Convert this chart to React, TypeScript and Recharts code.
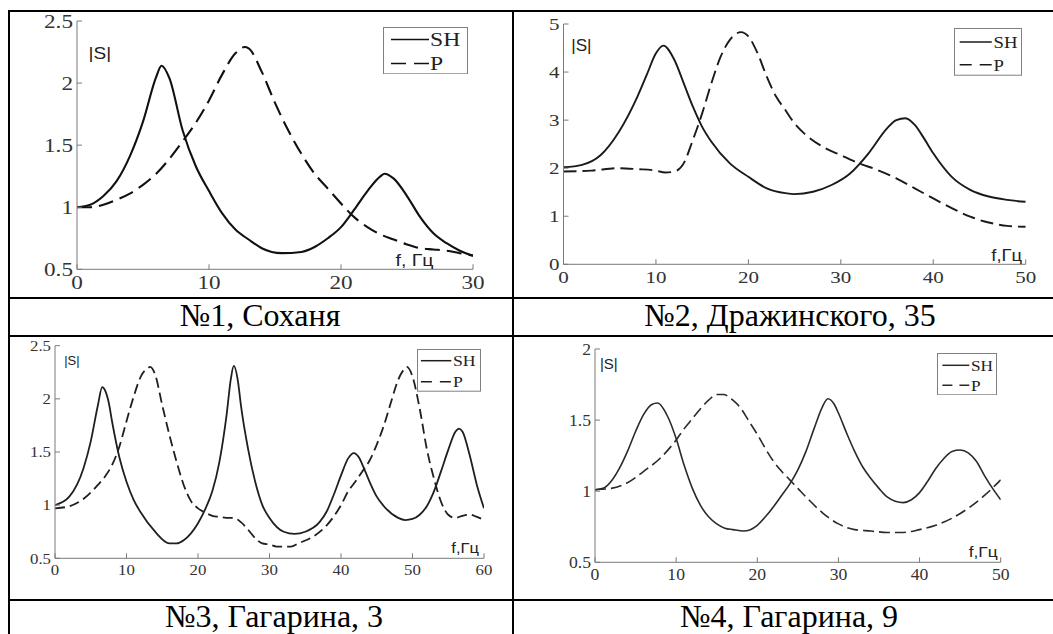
import { LineChart, Line, XAxis, YAxis, Legend } from "recharts";

// №1, Соханя
const f1Sh = [0, 1, 2, 3, 4, 5, 6, 6.4, 7, 8, 9, 10, 11, 12, 13, 14, 15.5, 17, 18, 19, 20, 21, 22, 23, 23.3, 24, 25, 26, 27, 28, 29, 30];
const s1Sh = [1.0, 1.02, 1.09, 1.21, 1.41, 1.69, 2.05, 2.14, 2.04, 1.62, 1.33, 1.13, 0.95, 0.82, 0.74, 0.67, 0.63, 0.64, 0.68, 0.75, 0.84, 0.98, 1.13, 1.25, 1.27, 1.23, 1.09, 0.92, 0.79, 0.71, 0.65, 0.61];
const f1P = [0, 1, 2, 3, 4, 5, 6, 7, 8, 9, 10, 11, 12, 12.7, 13, 14, 15, 16, 17, 18, 19, 20, 21, 22, 23, 24, 25, 26, 27, 28, 29, 30];
const s1P = [1.0, 1.0, 1.02, 1.06, 1.11, 1.18, 1.27, 1.39, 1.53, 1.68, 1.86, 2.07, 2.24, 2.29, 2.28, 2.09, 1.84, 1.62, 1.43, 1.27, 1.15, 1.03, 0.92, 0.84, 0.78, 0.74, 0.7, 0.67, 0.66, 0.65, 0.63, 0.61];
const x1Ticks = [0, 10, 20, 30];
const y1Ticks = [0.5, 1, 1.5, 2, 2.5];

// №2, Дражинского, 35
const f2Sh = [0, 2, 4, 6, 8, 9, 10, 10.8, 12, 13, 14, 15, 16, 18, 20, 22, 24, 25, 27, 29, 31, 33, 35, 36, 37, 38, 39, 40, 42, 44, 46, 48, 50];
const s2Sh = [2.02, 2.07, 2.27, 2.76, 3.49, 3.94, 4.39, 4.55, 4.25, 3.77, 3.28, 2.86, 2.55, 2.1, 1.82, 1.58, 1.48, 1.46, 1.51, 1.65, 1.89, 2.31, 2.83, 3.0, 3.04, 2.9, 2.62, 2.31, 1.82, 1.55, 1.41, 1.34, 1.3];
const f2P = [0, 3, 6, 8, 10, 11, 12, 13, 14, 15, 16, 17, 18, 19.2, 20, 21, 22, 23, 24, 25, 26, 28, 30, 32, 34, 36, 38, 40, 42, 44, 46, 48, 50];
const s2P = [1.93, 1.95, 2.0, 1.98, 1.95, 1.91, 1.93, 2.1, 2.59, 3.14, 3.77, 4.32, 4.67, 4.83, 4.74, 4.39, 3.9, 3.49, 3.21, 2.93, 2.73, 2.45, 2.27, 2.1, 1.96, 1.79, 1.58, 1.37, 1.17, 0.99, 0.87, 0.8, 0.78];
const x2Ticks = [0, 10, 20, 30, 40, 50];
const y2Ticks = [0, 1, 2, 3, 4, 5];

// №3, Гагарина, 3
const f3Sh = [0, 2, 4, 5, 6, 6.6, 7, 7.5, 8, 9, 10, 11, 12, 14, 16, 17, 18, 20, 21, 22, 23, 24, 24.6, 25, 25.6, 26, 27, 28, 29, 30, 32, 33.5, 35, 37, 38, 39, 40, 41, 41.8, 42.5, 43, 44, 45, 46, 48, 49, 50, 51, 52, 53, 54, 55, 56, 56.5, 57, 58, 59, 60];
const s3Sh = [1.0, 1.08, 1.35, 1.6, 1.94, 2.11, 2.08, 1.97, 1.78, 1.45, 1.22, 1.05, 0.93, 0.75, 0.64, 0.64, 0.67, 0.83, 0.96, 1.13, 1.41, 1.85, 2.19, 2.31, 2.16, 1.94, 1.53, 1.22, 1.0, 0.88, 0.75, 0.73, 0.75, 0.84, 0.94, 1.1, 1.28, 1.44, 1.49, 1.45, 1.38, 1.22, 1.08, 0.99, 0.88, 0.86, 0.87, 0.91, 0.99, 1.13, 1.32, 1.52, 1.69, 1.72, 1.69, 1.47, 1.19, 0.97];
const f3P = [0, 2, 4, 6, 7, 8, 9, 10, 11, 12, 13, 13.3, 14, 15, 16, 17, 18, 19, 20, 21, 22, 23, 24, 25, 26, 27, 28, 29, 30, 31, 32, 33, 34, 36, 38, 40, 41, 42, 43, 44, 45, 46, 47, 48, 49, 49.2, 50, 51, 52, 53, 54, 55, 56, 57, 58, 59, 60];
const s3P = [0.97, 0.99, 1.06, 1.19, 1.27, 1.38, 1.55, 1.79, 2.02, 2.21, 2.29, 2.3, 2.23, 1.94, 1.66, 1.41, 1.19, 1.04, 0.97, 0.93, 0.9, 0.89, 0.88, 0.88, 0.84, 0.77, 0.69, 0.64, 0.63, 0.61, 0.61, 0.61, 0.64, 0.7, 0.81, 1.0, 1.13, 1.22, 1.32, 1.42, 1.57, 1.75, 1.97, 2.18, 2.29, 2.3, 2.21, 1.91, 1.53, 1.25, 1.03, 0.91, 0.88, 0.9, 0.91, 0.89, 0.86];
const x3Ticks = [0, 10, 20, 30, 40, 50, 60];
const y3Ticks = [0.5, 1, 1.5, 2, 2.5];

// №4, Гагарина, 9
const f4Sh = [0, 1, 2, 3, 4, 5, 6, 7, 7.7, 9, 10, 11, 12, 13, 14, 15, 16, 17, 18.3, 20, 21, 22, 23, 24, 25, 26, 27, 28, 28.7, 29.5, 30, 31, 32, 33, 34, 35, 36, 37, 38, 39, 40, 41, 42, 43, 44, 45, 46, 47, 48, 49, 50];
const s4Sh = [1.01, 1.02, 1.07, 1.16, 1.28, 1.42, 1.54, 1.61, 1.62, 1.52, 1.37, 1.18, 1.02, 0.9, 0.82, 0.77, 0.74, 0.73, 0.72, 0.76, 0.82, 0.89, 0.97, 1.05, 1.15, 1.28, 1.44, 1.59, 1.65, 1.61, 1.55, 1.41, 1.28, 1.17, 1.09, 1.02, 0.96, 0.93, 0.92, 0.94, 0.99, 1.07, 1.16, 1.23, 1.28, 1.29, 1.27, 1.21, 1.11, 1.02, 0.94];
const f4P = [0, 2, 4, 6, 8, 10, 11, 12, 13, 14, 15, 15.8, 17, 18, 19, 20, 21, 22, 23, 24, 25, 26, 28, 30, 32, 34, 36, 38, 40, 42, 44, 46, 48, 50];
const s4P = [1.01, 1.02, 1.06, 1.14, 1.23, 1.36, 1.44, 1.51, 1.58, 1.64, 1.68, 1.68, 1.64, 1.58, 1.49, 1.4, 1.3, 1.21, 1.14, 1.08, 1.02, 0.96, 0.85, 0.77, 0.73, 0.72, 0.71, 0.71, 0.73, 0.76, 0.81, 0.88, 0.97, 1.08];
const x4Ticks = [0, 10, 20, 30, 40, 50];
const y4Ticks = [0.5, 1, 1.5, 2];

const seriesNames = ["SH", "P"];
const yLabel = "|S|";
const xLabels = ["f, Гц", "f,Гц", "f,Гц", "f,Гц"];
const captions = ["№1, Соханя", "№2, Дражинского, 35", "№3, Гагарина, 3", "№4, Гагарина, 9"];

const rows = (f: number[], s: number[]) => f.map((v, i) => ({ f: v, s: s[i] }));

const AXIS = "#7a7a7a";
const SERIF = '"Liberation Serif", "Times New Roman", serif';
const SANS = '"Liberation Sans", Arial, sans-serif';
const YW = 40;
const XH = 24;

// layout of each panel in page pixels
const panels = [
  {
    box: { left: 10, top: 12, w: 502, h: 284 },
    plot: { l: 77, t: 21, r: 473, b: 269.3 },
    xDomain: [0, 30], yDomain: [0.5, 2.5], xTicks: x1Ticks, yTicks: y1Ticks,
    sh: rows(f1Sh, s1Sh), p: rows(f1P, s1P),
    fs: 19, sx: 1.22, lw: 2.1, dash: "15 7", ink: "#111",
    sLab: { x: 88.5, y: 53, fs: 17, sx: 1.12 },
    fLab: { x: 395.5, y: 260, fs: 17, sx: 1.15 },
    leg: { x: 383, y: 26.7, w: 85, h: 47.3, r: [12.6, 36.6], lx0: 8, lx1: 46, tx: 47, fs: 18.5, sx: 1.28, dash: "15 8" },
    xLab: xLabels[0],
  },
  {
    box: { left: 514, top: 12, w: 539, h: 284 },
    plot: { l: 563.5, t: 24, r: 1025.7, b: 264.3 },
    xDomain: [0, 50], yDomain: [0, 5], xTicks: x2Ticks, yTicks: y2Ticks,
    sh: rows(f2Sh, s2Sh), p: rows(f2P, s2P),
    fs: 17.5, sx: 1.2, lw: 1.9, dash: "13 6", ink: "#1a1a1a",
    sLab: { x: 571.2, y: 45, fs: 16, sx: 1.07 },
    fLab: { x: 991.3, y: 255, fs: 16.5, sx: 1.12 },
    leg: { x: 953.5, y: 28.3, w: 68, h: 47.7, r: [14, 36.7], lx0: 5.7, lx1: 37.8, tx: 39.5, fs: 17.5, sx: 1.07, dash: "12 8" },
    xLab: xLabels[1],
  },
  {
    box: { left: 10, top: 337, w: 502, h: 262 },
    plot: { l: 55, t: 345.7, r: 484, b: 558.3 },
    xDomain: [0, 60], yDomain: [0.5, 2.5], xTicks: x3Ticks, yTicks: y3Ticks,
    sh: rows(f3Sh, s3Sh), p: rows(f3P, s3P),
    fs: 15, sx: 1.12, lw: 1.8, dash: "10 5", ink: "#1f1f1f",
    sLab: { x: 64.2, y: 360, fs: 13, sx: 1.0 },
    fLab: { x: 451.3, y: 547.7, fs: 14, sx: 1.18 },
    leg: { x: 417, y: 349, w: 64, h: 42.7, r: [11.7, 32.7], lx0: 3.9, lx1: 34.3, tx: 36, fs: 15, sx: 1.18, dash: "11 8" },
    xLab: xLabels[2],
  },
  {
    box: { left: 514, top: 337, w: 539, h: 262 },
    plot: { l: 595, t: 349, r: 1000.7, b: 562.3 },
    xDomain: [0, 50], yDomain: [0.5, 2], xTicks: x4Ticks, yTicks: y4Ticks,
    sh: rows(f4Sh, s4Sh), p: rows(f4P, s4P),
    fs: 16, sx: 1.1, lw: 1.6, dash: "11 5", ink: "#2a2a2a",
    sLab: { x: 599.9, y: 363.3, fs: 15, sx: 1.0 },
    fLab: { x: 968.7, y: 551.7, fs: 15, sx: 1.16 },
    leg: { x: 937, y: 352.7, w: 60, h: 42.3, r: [12.3, 32.3], lx0: 5.4, lx1: 32.3, tx: 34, fs: 15, sx: 1.15, dash: "10 7" },
    xLab: xLabels[3],
  },
];

function Panel({ cfg }: { cfg: any }) {
  const { box, plot } = cfg;
  const margin = {
    left: plot.l - box.left - YW,
    top: plot.t - box.top,
    right: box.left + box.w - plot.r,
    bottom: box.top + box.h - plot.b - XH,
  };
  const yGap = 4;
  const xGap = 6;

  // MATLAB-style ticks: marks point into the plot
  const yTick = (p: any) => {
    const ax = p.x + yGap;
    return (
      <g>
        <line x1={ax} x2={ax + 5} y1={p.y} y2={p.y} stroke={AXIS} />
        <text
          transform={`translate(${p.x},${p.y}) scale(${cfg.sx},1)`}
          textAnchor="end"
          dy="0.35em"
          fontFamily={SERIF}
          fontSize={cfg.fs}
          fill="#333"
        >
          {p.payload.value}
        </text>
      </g>
    );
  };

  const xTick = (p: any) => {
    const ay = p.y - xGap;
    return (
      <g>
        <line x1={p.x} x2={p.x} y1={ay} y2={ay - 5} stroke={AXIS} />
        <text
          transform={`translate(${p.x},${p.y}) scale(${cfg.sx},1)`}
          textAnchor="middle"
          dy="0.71em"
          fontFamily={SERIF}
          fontSize={cfg.fs}
          fill="#333"
        >
          {p.payload.value}
        </text>
      </g>
    );
  };

  const sText = (lab: any, value: string) => (
    <text
      transform={`translate(${lab.x - box.left},${lab.y - box.top}) scale(${lab.sx},1)`}
      dy="0.35em"
      fontFamily={SANS}
      fontSize={lab.fs}
      fill="#222"
    >
      {value}
    </text>
  );

  const lg = cfg.leg;
  const legendContent = () => (
    <svg width={lg.w} height={lg.h} style={{ display: "block" }}>
      <rect x={0.5} y={0.5} width={lg.w - 1} height={lg.h - 1} fill="#fff" stroke="#808080" />
      {seriesNames.map((name, i) => (
        <g key={name}>
          <line
            x1={lg.lx0}
            x2={lg.lx1}
            y1={lg.r[i]}
            y2={lg.r[i]}
            stroke={cfg.ink}
            strokeWidth={1.5}
            strokeDasharray={i === 1 ? lg.dash : undefined}
          />
          <text
            transform={`translate(${lg.tx},${lg.r[i]}) scale(${lg.sx},1)`}
            dy="0.35em"
            fontFamily={SERIF}
            fontSize={lg.fs}
            fill="#222"
          >
            {name}
          </text>
        </g>
      ))}
    </svg>
  );

  return (
    <div style={{ position: "absolute", left: box.left, top: box.top }}>
      <LineChart width={box.w} height={box.h} margin={margin}>
        <XAxis
          type="number"
          dataKey="f"
          domain={cfg.xDomain}
          ticks={cfg.xTicks}
          interval={0}
          allowDataOverflow
          height={XH}
          tickSize={0}
          tickMargin={xGap}
          tickLine={false}
          stroke={AXIS}
          tick={xTick}
          label={{ content: () => sText(cfg.fLab, cfg.xLab) }}
        />
        <YAxis
          type="number"
          domain={cfg.yDomain}
          ticks={cfg.yTicks}
          interval={0}
          allowDataOverflow
          width={YW}
          tickSize={0}
          tickMargin={yGap}
          tickLine={false}
          stroke={AXIS}
          tick={yTick}
          label={{ content: () => sText(cfg.sLab, yLabel) }}
        />
        <Legend
          layout="vertical"
          align="center"
          verticalAlign="middle"
          wrapperStyle={{ left: lg.x - box.left, top: lg.y - box.top, width: lg.w, height: lg.h }}
          content={legendContent}
        />
        <Line
          data={cfg.sh}
          dataKey="s"
          name={seriesNames[0]}
          type="monotone"
          stroke={cfg.ink}
          strokeWidth={cfg.lw}
          dot={false}
          activeDot={false}
          isAnimationActive={false}
        />
        <Line
          data={cfg.p}
          dataKey="s"
          name={seriesNames[1]}
          type="monotone"
          stroke={cfg.ink}
          strokeWidth={cfg.lw}
          strokeDasharray={cfg.dash}
          dot={false}
          activeDot={false}
          isAnimationActive={false}
        />
      </LineChart>
    </div>
  );
}

const captionPos = [
  { cx: 260, base: 325 },
  { cx: 790, base: 325 },
  { cx: 274, base: 626.5 },
  { cx: 789, base: 626.5 },
];

const rules = [
  { left: 8, top: 10, width: 1045, height: 2 },
  { left: 8, top: 10, width: 2, height: 624 },
  { left: 512, top: 10, width: 2, height: 624 },
  { left: 8, top: 297, width: 1045, height: 2 },
  { left: 8, top: 335, width: 1045, height: 2 },
  { left: 8, top: 599, width: 1045, height: 2 },
];

export default function App() {
  return (
    <div style={{ position: "absolute", left: 0, top: 0, width: 1053, height: 634, overflow: "hidden", background: "#fff" }}>
      {panels.map((cfg, i) => (
        <Panel key={i} cfg={cfg} />
      ))}
      {rules.map((r, i) => (
        <div key={i} style={{ position: "absolute", background: "#000", ...r }} />
      ))}
      {captions.map((c, i) => (
        <div
          key={i}
          style={{
            position: "absolute",
            left: captionPos[i].cx - 250,
            width: 500,
            top: captionPos[i].base - 24.5,
            textAlign: "center",
            fontFamily: SERIF,
            fontSize: 32,
            lineHeight: "28px",
            color: "#000",
            whiteSpace: "nowrap",
          }}
        >
          {c}
        </div>
      ))}
    </div>
  );
}
